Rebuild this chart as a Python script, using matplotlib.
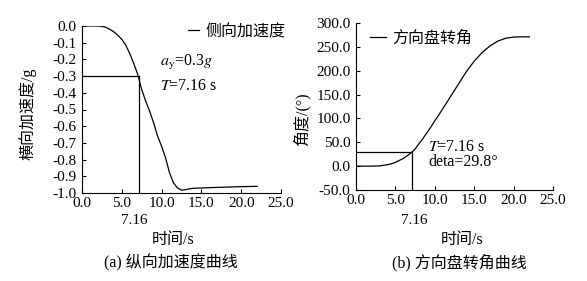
import matplotlib
matplotlib.use("Agg")
import matplotlib.pyplot as plt
import matplotlib.transforms as mtrans
from matplotlib.lines import Line2D

plt.rcParams['font.family'] = ['Liberation Serif', 'Noto Sans CJK SC']
plt.rcParams['mathtext.fontset'] = 'stix'
plt.rcParams['axes.unicode_minus'] = False

# ---- data ----
t_acc = [0, 1, 2, 2.5, 3, 3.5, 4, 4.5, 5, 5.5, 6, 6.5, 7, 7.5, 8, 8.5, 9, 9.5,
         10, 10.5, 11, 11.5, 12, 12.5, 13, 13.5, 14, 15, 16, 18, 20, 22]
acc = [0, 0, 0, -0.002, -0.008, -0.02, -0.035, -0.055, -0.08, -0.115, -0.165,
       -0.225, -0.29, -0.38, -0.45, -0.51, -0.58, -0.66, -0.72, -0.79, -0.88,
       -0.94, -0.97, -0.983, -0.98, -0.975, -0.972, -0.97, -0.968, -0.965,
       -0.962, -0.96]

t_steer = [0, 1, 2, 3, 4, 4.7, 5, 6, 7, 7.5, 8, 8.5, 9, 9.5, 10, 10.5, 11, 12,
           13, 14, 15, 16, 17, 18, 19, 20, 21, 22]
steer = [0, 0, 0, 0.5, 3, 6, 8, 16, 28, 36, 47, 58, 70, 82, 95, 107, 120, 146,
         172, 198, 220, 238, 252, 262, 268, 270.5, 271, 271]

T_mark = 7.16
acc_mark = -0.3
steer_mark = 29.8

xticks = [0, 5, 10, 15, 20, 25]
acc_ticks = [0, -0.1, -0.2, -0.3, -0.4, -0.5, -0.6, -0.7, -0.8, -0.9, -1.0]
steer_ticks = [-50, 0, 50, 100, 150, 200, 250, 300]

W, H = 587, 281
fig = plt.figure(figsize=(W / 100, H / 100), dpi=100)
FS = 11       # tick labels
FC = 11.5     # chinese labels / annotations
lw = 0.9


def px(x, y):
    return x / W, 1 - y / H


def style(ax):
    ax.spines['top'].set_visible(False)
    ax.spines['right'].set_visible(False)
    for s in ('left', 'bottom'):
        ax.spines[s].set_linewidth(0.8)
    ax.tick_params(direction='in', length=3, width=0.8, labelsize=FS)
    ax.tick_params(axis='y', pad=4)
    ax.tick_params(axis='x', pad=3)


def below(ax, dy_px):
    return ax.transData + mtrans.ScaledTranslation(0, -dy_px / 100, fig.dpi_scale_trans)


# ---- left panel ----
ax1 = fig.add_axes([82 / W, 1 - 193 / H, (281 - 82) / W, (193 - 26) / H])
style(ax1)
ax1.plot(t_acc, acc, color='black', lw=lw)
ax1.plot([0, T_mark], [acc_mark, acc_mark], color='black', lw=lw)
ax1.plot([T_mark, T_mark], [acc_mark, -1.0], color='black', lw=lw)
ax1.set_xlim(0, 25)
ax1.set_ylim(-1.0, 0)
ax1.set_xticks(xticks)
ax1.set_xticklabels([f"{v:.1f}" for v in xticks])
ax1.set_yticks(acc_ticks)
ax1.set_yticklabels([f"{v:.1f}" for v in acc_ticks])
ax1.text(T_mark - 0.6, -1.0, '7.16', fontsize=FS, ha='center', va='center',
         transform=below(ax1, 27))
ax1.text(9.8, -0.22, r'$a_{\mathrm{y}}$=0.3$g$', fontsize=FC, ha='left', va='center')
ax1.text(9.8, -0.36, r'$T$=7.16 s', fontsize=FC, ha='left', va='center')
ax1.legend(handles=[Line2D([], [], color='black', lw=lw)], labels=['侧向加速度'],
           loc='center left', bbox_to_anchor=px(188, 32), bbox_transform=fig.transFigure,
           frameon=False, fontsize=FC, handlelength=0.7, handletextpad=0.4,
           borderpad=0, borderaxespad=0)
fig.text(*px(28, 114), '横向加速度/g', rotation=90, ha='center', va='center', fontsize=FC)
fig.text(*px(173, 240), '时间/s', ha='center', va='center', fontsize=FC)
fig.text(*px(171, 263), '(a) 纵向加速度曲线', ha='center', va='center', fontsize=FC)

# ---- right panel ----
ax2 = fig.add_axes([356 / W, 1 - 190 / H, (553 - 356) / W, (190 - 23) / H])
style(ax2)
ax2.plot(t_steer, steer, color='black', lw=lw)
ax2.plot([0, T_mark], [steer_mark, steer_mark], color='black', lw=lw)
ax2.plot([T_mark, T_mark], [steer_mark, -50], color='black', lw=lw)
ax2.set_xlim(0, 25)
ax2.set_ylim(-50, 300)
ax2.set_xticks(xticks)
ax2.set_xticklabels([f"{v:.1f}" for v in xticks])
ax2.set_yticks(steer_ticks)
ax2.set_yticklabels([f"{v:.1f}" for v in steer_ticks])
ax2.text(T_mark + 0.3, -50, '7.16', fontsize=FS, ha='center', va='center',
         transform=below(ax2, 30))
ax2.text(9.2, 41, r'$T$=7.16 s', fontsize=FC, ha='left', va='center')
ax2.text(9.2, 8, 'deta=29.8°', fontsize=FC, ha='left', va='center')
ax2.legend(handles=[Line2D([], [], color='black', lw=lw)], labels=['方向盘转角'],
           loc='center left', bbox_to_anchor=px(370, 39), bbox_transform=fig.transFigure,
           frameon=False, fontsize=FC, handlelength=1.0, handletextpad=0.4,
           borderpad=0, borderaxespad=0)
fig.text(*px(302, 119), '角度/(°)', rotation=90, ha='center', va='center', fontsize=FC)
fig.text(*px(462, 240), '时间/s', ha='center', va='center', fontsize=FC)
fig.text(*px(459, 263), '(b) 方向盘转角曲线', ha='center', va='center', fontsize=FC)

fig.savefig('out.png', dpi=100)
